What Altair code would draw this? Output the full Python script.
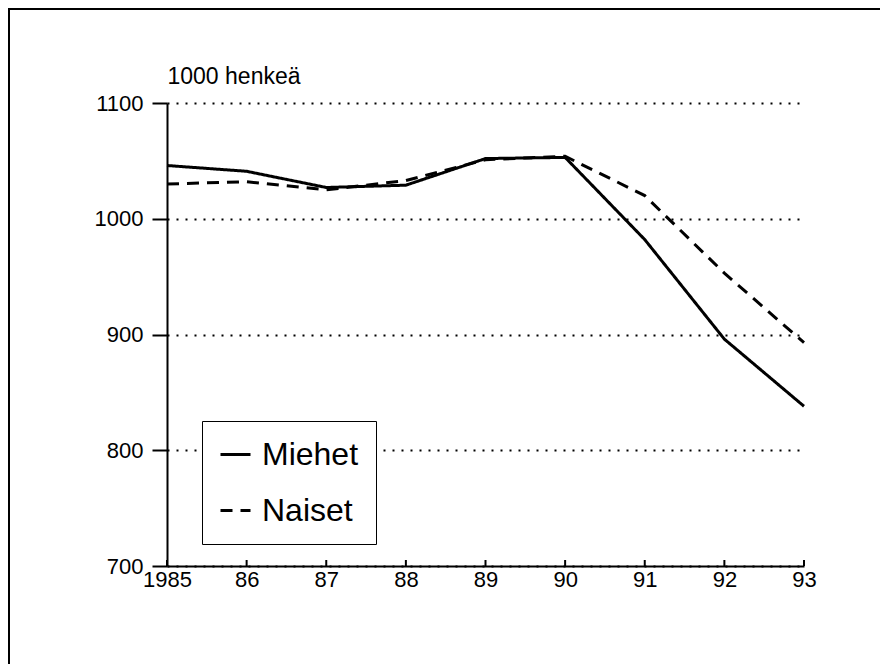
import altair as alt
import pandas as pd

years = [1985, 1986, 1987, 1988, 1989, 1990, 1991, 1992, 1993]
miehet = [1046, 1041, 1027, 1029, 1052, 1053, 982, 896, 838]
naiset = [1030, 1032, 1025, 1033, 1051, 1054, 1020, 953, 893]
series_names = ["Miehet", "Naiset"]
y_ticks = [700, 800, 900, 1000, 1100]

df = pd.DataFrame(
    {"vuosi": years * 2,
     "arvo": miehet + naiset,
     "sarja": [series_names[0]] * len(years) + [series_names[1]] * len(years)}
)
ticks_df = pd.DataFrame({"vuosi": years})

FONT = "Liberation Sans"
W, H = 637, 463

x_scale = alt.Scale(domain=[1985, 1993], nice=False, zero=False)
y_scale = alt.Scale(domain=[700, 1100], nice=False, zero=False)

lines = alt.Chart(df).mark_line(strokeWidth=3, color="black").encode(
    x=alt.X("vuosi:Q", scale=x_scale,
            axis=alt.Axis(values=years, title=None, ticks=False, grid=False,
                          domainColor="black", domainWidth=2,
                          labelFontSize=22, labelColor="black", labelFont=FONT,
                          labelPadding=3, labelFlush=False,
                          labelExpr="datum.value == 1985 ? '1985' : substring(toString(datum.value), 2, 4)")),
    y=alt.Y("arvo:Q", scale=y_scale,
            axis=alt.Axis(values=y_ticks, format="d", title="1000 henkeä", titleAngle=0,
                          titleX=0, titleY=-20, titleAlign="left",
                          titleBaseline="alphabetic", titleFontSize=23,
                          titleFontWeight="normal", titleFont=FONT, titleColor="black",
                          tickSize=15, tickWidth=2, tickColor="black",
                          domainColor="black", domainWidth=2,
                          labelFontSize=22, labelColor="black", labelFont=FONT,
                          labelPadding=9,
                          grid=True, gridColor="black", gridDash=[2, 7], gridWidth=2)),
    strokeDash=alt.StrokeDash(
        "sarja:N",
        scale=alt.Scale(domain=series_names, range=[[1, 0], [12, 8]]),
        legend=alt.Legend(orient="none", legendX=35, legendY=318, title=None,
                          symbolType="stroke", symbolSize=900, symbolStrokeWidth=3,
                          symbolStrokeColor="black", labelFontSize=32,
                          labelFont=FONT, labelColor="black", labelOffset=10,
                          strokeColor="black", fillColor="white", padding=17,
                          rowPadding=23),
    ),
)

x_ticks = alt.Chart(ticks_df).mark_rule(color="black", strokeWidth=2).encode(
    x=alt.X("vuosi:Q", scale=x_scale),
    y=alt.value(H),
    y2=alt.value(H - 6),
)

frame_data = alt.Data(values=[{"k": 0}])
frame_left = alt.Chart(frame_data).mark_rule(color="black", strokeWidth=2).encode(
    x=alt.value(-158), y=alt.value(-95), y2=alt.value(H + 100)
)
frame_top = alt.Chart(frame_data).mark_rule(color="black", strokeWidth=2).encode(
    y=alt.value(-94), x=alt.value(-158), x2=alt.value(W + 76)
)

chart = alt.layer(frame_left, frame_top, x_ticks, lines).properties(
    width=W, height=H,
    autosize="none",
    background="white",
    padding={"left": 159, "top": 95, "right": 76, "bottom": 98},
).configure_view(stroke=None)

chart.save("out.html", embed_options={"renderer": "svg", "actions": False})
